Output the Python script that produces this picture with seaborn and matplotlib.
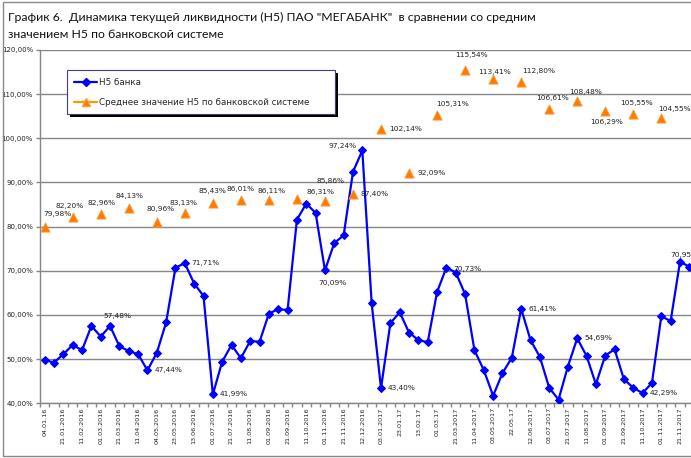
#Dynamics of current liquidity N5 vs banking system average
import numpy as np
import matplotlib
matplotlib.use("Agg")
import matplotlib.pyplot as plt
from matplotlib.lines import Line2D
from matplotlib.patches import Rectangle
import seaborn as sns

#data
date_labels = [
    '04.01.16', '21.01.2016', '11.02.2016', '01.03.2016', '21.03.2016', '11.04.2016',
    '04.05.2016', '23.05.2016', '13.06.2016', '01.07.2016', '21.07.2016', '11.08.2016',
    '01.09.2016', '21.09.2016', '11.10.2016', '01.11.2016', '21.11.2016', '12.12.2016',
    '03.01.2017', '23.01.17', '13.02.17', '01.03.17', '21.03.2017', '11.04.2017',
    '03.05.2017', '22.05.17', '12.06.2017', '03.07.2017', '21.07.2017', '11.08.2017',
    '01.09.2017', '21.09.2017', '11.10.2017', '01.11.2017', '21.11.2017'
]
bank_h5 = [
    49.8, 49.2, 51.1, 53.2, 52.0, 57.5, 55.1, 57.48, 52.9, 51.8,
    51.1, 47.44, 51.4, 58.3, 70.7, 71.71, 67.1, 64.3, 41.99, 49.4,
    53.2, 50.2, 54.1, 53.9, 60.3, 61.3, 61.1, 81.6, 85.2, 83.1,
    70.09, 76.3, 78.0, 92.4, 97.24, 62.6, 43.40, 58.1, 60.6, 56.0,
    54.3, 53.8, 65.2, 70.73, 69.6, 64.7, 52.0, 47.5, 41.7, 46.8,
    50.3, 61.41, 54.3, 50.5, 43.5, 40.8, 48.3, 54.69, 50.7, 44.3,
    50.8, 52.2, 45.4, 43.5, 42.29, 44.6, 59.7, 58.6, 72.0, 70.95
]
system_avg = [
    79.98, 82.20, 82.96, 84.13, 80.96, 83.13, 85.43, 86.01, 86.11, 86.31,
    85.86, 87.40, 102.14, 92.09, 105.31, 115.54, 113.41, 112.80, 106.61, 108.48,
    106.29, 105.55, 104.55
]

#label placement: index -> (dx px, dy px, ha)
bank_lbl = {7: (7, 10, 'center'), 11: (7, 0, 'left'), 15: (7, 0, 'left'), 18: (7, 0, 'left'),
            30: (7, -13, 'center'), 34: (-6, 4, 'right'), 36: (7, 0, 'left'), 43: (7, -1, 'left'),
            51: (7, 0, 'left'), 57: (7, 0, 'left'), 64: (7, 0, 'left'), 69: (-5, 12, 'center')}
avg_lbl = {0: (13, 13, 'center'), 1: (-3, 11, 'center'), 2: (1, 11, 'center'), 3: (1, 12, 'center'),
           4: (4, 13, 'center'), 5: (-1, 10, 'center'), 6: (0, 12, 'center'), 7: (0, 11, 'center'),
           8: (3, 9, 'center'), 9: (10, 7, 'left'), 10: (6, 20, 'center'), 11: (8, 0, 'left'),
           12: (8, 0, 'left'), 13: (8, 0, 'left'), 14: (15, 11, 'center'), 15: (6, 15, 'center'),
           16: (1, 7, 'center'), 17: (18, 11, 'center'), 18: (3, 11, 'center'), 19: (8, 9, 'center'),
           20: (1, -11, 'center'), 21: (3, 11, 'center'), 22: (13, 9, 'center')}

bank_x = np.arange(len(bank_h5))
avg_x = np.arange(len(system_avg)) * 3

sns.set_style("white")
plt.rcParams['font.family'] = ['DejaVu Sans']

W, H = 691, 458
fig = plt.figure(figsize=(W / 100, H / 100), dpi=100)
ax = fig.add_axes([40 / W, (H - 403.2) / H, 654 / W, 353.2 / H])

grey = '#868686'
sns.lineplot(x=bank_x, y=bank_h5, ax=ax, color='#0000FF', lw=1.6, marker='D',
             markersize=4.5, markeredgecolor='#0000FF', zorder=3, legend=False)
sns.scatterplot(x=avg_x, y=system_avg, ax=ax, marker='^', s=44, color='#FF7A00',
                edgecolor='#FF9933', linewidth=0.6, zorder=3, legend=False)

def fmt(v):
    return f"{v:.2f}%".replace('.', ',')

for i, (dx, dy, ha) in bank_lbl.items():
    ax.annotate(fmt(bank_h5[i]), (bank_x[i], bank_h5[i]), xytext=(dx * 0.72, dy * 0.72),
                textcoords='offset points', ha=ha, va='center', fontsize=5.3, color='#222222')
for i, (dx, dy, ha) in avg_lbl.items():
    ax.annotate(fmt(system_avg[i]), (avg_x[i], system_avg[i]), xytext=(dx * 0.72, dy * 0.72),
                textcoords='offset points', ha=ha, va='center', fontsize=5.3, color='#222222')

ax.set_xlim(-0.5, len(bank_h5) - 0.5)
ax.set_ylim(40, 120)
ax.set_xticks(np.arange(0, len(bank_h5), 2))
ax.set_xticklabels(date_labels, rotation=90, fontsize=4.6, color='#222222')
ax.set_xticks(np.arange(-0.5, len(bank_h5), 1), minor=True)
ax.tick_params(axis='x', which='major', length=0, pad=3)
ax.tick_params(axis='x', which='minor', length=3, color=grey, width=1, bottom=True)
yt = np.arange(40, 121, 10)
ax.set_yticks(yt)
ax.set_yticklabels([fmt(v) for v in yt], fontsize=5, color='#222222')
ax.tick_params(axis='y', length=3, color=grey, width=1, left=True, pad=2)
ax.yaxis.grid(True, color=grey, lw=1)
ax.set_axisbelow(True)
for s in ['top', 'right']:
    ax.spines[s].set_visible(False)
for s in ['left', 'bottom']:
    ax.spines[s].set_color(grey)
    ax.spines[s].set_linewidth(1)
ax.set_xlabel('')
ax.set_ylabel('')

handles = [
    Line2D([], [], color='#0000FF', lw=1.6, marker='D', markersize=4.5),
    Line2D([], [], color='#FF9900', lw=1.6, marker='^', markersize=6,
           markerfacecolor='#FF7A00', markeredgecolor='#FF9933'),
]
leg = fig.legend(handles, ['Н5 банка', 'Среднее значение Н5 по банковской системе'],
                 loc='upper left', bbox_to_anchor=(67 / W, 1 - 70.7 / H, 268 / W, 0.001),
                 mode='expand', fontsize=6.3, frameon=True, fancybox=False,
                 shadow={'color': 'black', 'alpha': 1, 'linewidth': 0}, borderpad=0.85,
                 labelspacing=1.25, handlelength=2.6, handletextpad=0.2, borderaxespad=0)
leg.get_frame().set_edgecolor('#404080')
leg.get_frame().set_linewidth(0.8)
leg.get_frame().set_facecolor('white')

title_font = ['Lato', 'DejaVu Sans']
fig.text(8 / W, 1 - 21 / H, 'График 6.  Динамика текущей ликвидности (Н5) ПАО "МЕГАБАНК"  в сравнении со средним',
         va='baseline', ha='left', fontsize=8.8, family=title_font, color='#111111')
fig.text(8 / W, 1 - 37.7 / H, 'значением Н5 по банковской системе',
         va='baseline', ha='left', fontsize=8.8, family=title_font, color='#111111')

fig.patches.append(Rectangle((2.5 / W, 1 - 456 / H), 1.1, (456 - 2) / H, transform=fig.transFigure,
                             fill=False, edgecolor='#8a8a8a', lw=1, figure=fig))

plt.savefig('out.png', dpi=100)
plt.close()
